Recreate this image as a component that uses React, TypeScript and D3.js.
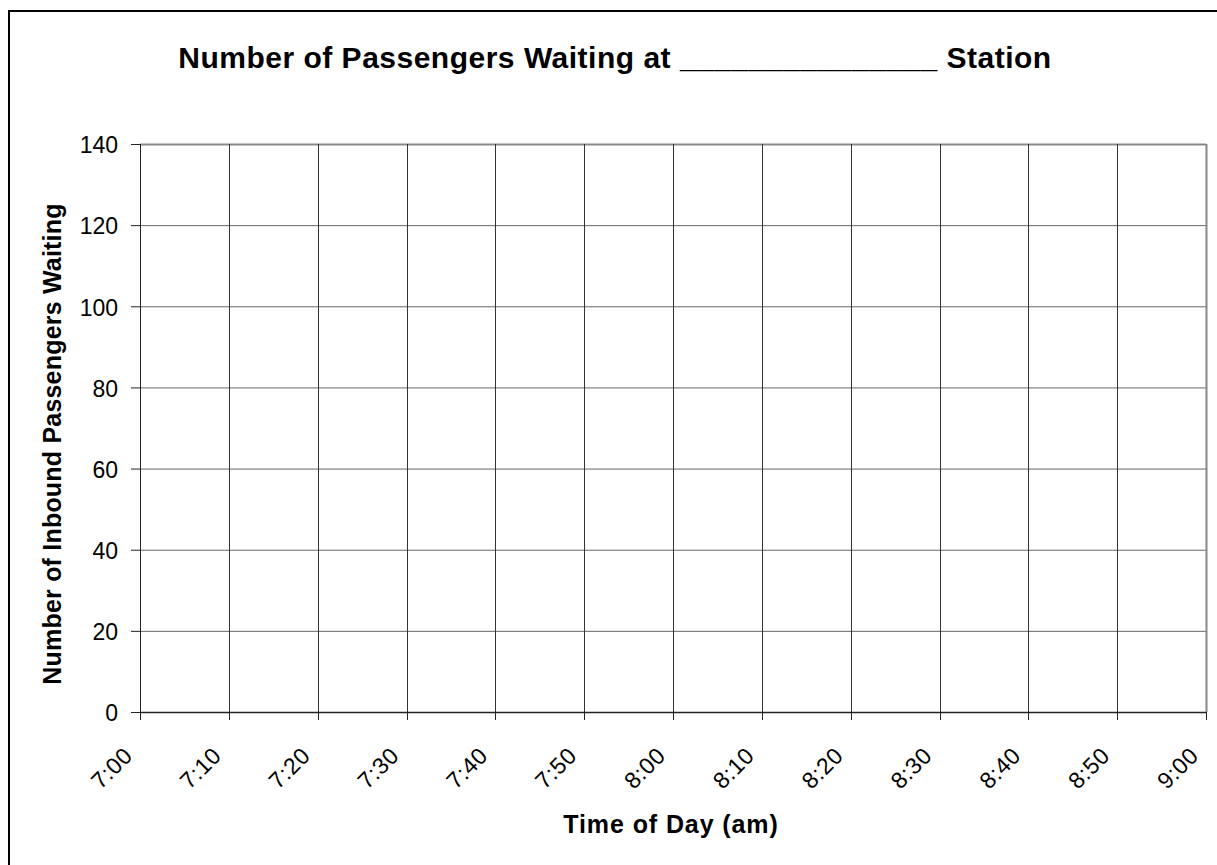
import { useEffect, useRef } from 'react'
import * as d3 from 'd3'

// axis ticks
const timeTicks = ['7:00', '7:10', '7:20', '7:30', '7:40', '7:50', '8:00', '8:10', '8:20', '8:30', '8:40', '8:50', '9:00']
const yTicks = [0, 20, 40, 60, 80, 100, 120, 140]
const titleText = 'Number of Passengers Waiting at _______________ Station'
const xTitle = 'Time of Day (am)'
const yTitle = 'Number of Inbound Passengers Waiting'

const parseTime = d3.timeParse('%H:%M')
const fmt = d3.timeFormat('%-H:%M')

export default function App() {
  const svgRef = useRef<SVGSVGElement>(null)
  const width = 1217
  const height = 865
  const left = 140
  const right = 1206
  const top = 144
  const bottom = 712

  useEffect(() => {
    if (!svgRef.current) return
    const svg = d3.select(svgRef.current)
    svg.selectAll('*').remove()

    const font = 'Arial, "Liberation Sans", sans-serif'
    const dates = timeTicks.map(t => parseTime(t) as Date)

    const x = d3.scaleTime()
      .domain([dates[0], dates[dates.length - 1]])
      .range([left, right])
    const y = d3.scaleLinear()
      .domain([0, d3.max(yTicks) as number])
      .range([bottom, top])

    // outer chart frame
    svg.append('rect')
      .attr('x', 9).attr('y', 11)
      .attr('width', 1230).attr('height', 880)
      .attr('fill', 'white')
      .attr('stroke', '#000')
      .attr('stroke-width', 2)

    // horizontal gridlines
    svg.append('g')
      .selectAll('line')
      .data(yTicks.filter(v => v > 0))
      .enter()
      .append('line')
      .attr('x1', left).attr('x2', right)
      .attr('y1', d => y(d) + 0.5).attr('y2', d => y(d) + 0.5)
      .attr('stroke', d => (d === 140 ? '#888' : '#666'))
      .attr('stroke-width', d => (d === 140 ? 2 : 1))

    // vertical gridlines
    svg.append('g')
      .selectAll('line')
      .data(dates.slice(1))
      .enter()
      .append('line')
      .attr('x1', d => Math.round(x(d)) + 0.5).attr('x2', d => Math.round(x(d)) + 0.5)
      .attr('y1', top).attr('y2', bottom)
      .attr('stroke', (d, i) => (i === dates.length - 2 ? '#888' : '#333'))
      .attr('stroke-width', (d, i) => (i === dates.length - 2 ? 2 : 1))

    // y axis
    const yAxis = svg.append('g')
    yAxis.append('line')
      .attr('x1', left + 0.5).attr('x2', left + 0.5)
      .attr('y1', top).attr('y2', bottom)
      .attr('stroke', '#222')
    yAxis.selectAll('line.tick')
      .data(yTicks)
      .enter()
      .append('line')
      .attr('class', 'tick')
      .attr('x1', left - 9).attr('x2', left)
      .attr('y1', d => y(d) + 0.5).attr('y2', d => y(d) + 0.5)
      .attr('stroke', '#222')
    yAxis.selectAll('text')
      .data(yTicks)
      .enter()
      .append('text')
      .attr('x', 118)
      .attr('y', d => y(d) + 1)
      .attr('dy', '0.36em')
      .attr('text-anchor', 'end')
      .style('font-family', font)
      .style('font-size', '23px')
      .attr('fill', '#000')
      .text(d => d)

    // x axis
    const xAxis = svg.append('g')
    xAxis.append('line')
      .attr('x1', left).attr('x2', right)
      .attr('y1', bottom + 0.5).attr('y2', bottom + 0.5)
      .attr('stroke', '#222')
      .attr('stroke-width', 1.5)
    xAxis.selectAll('line.tick')
      .data(dates)
      .enter()
      .append('line')
      .attr('class', 'tick')
      .attr('x1', d => Math.round(x(d)) + 0.5).attr('x2', d => Math.round(x(d)) + 0.5)
      .attr('y1', bottom).attr('y2', bottom + 8)
      .attr('stroke', '#222')
    xAxis.selectAll('text')
      .data(dates)
      .enter()
      .append('text')
      .attr('transform', d => `translate(${x(d) - 6},${757}) rotate(-45)`)
      .attr('text-anchor', 'end')
      .style('font-family', font)
      .style('font-size', '23px')
      .style('letter-spacing', '0.6px')
      .attr('fill', '#000')
      .text(d => fmt(d))

    // titles
    svg.append('text')
      .attr('x', 615)
      .attr('y', 68)
      .attr('text-anchor', 'middle')
      .style('font-family', font)
      .style('font-size', '30px')
      .style('font-weight', 'bold')
      .style('letter-spacing', '0.5px')
      .text(titleText)

    svg.append('text')
      .attr('x', (left + right) / 2 - 2)
      .attr('y', 833)
      .attr('text-anchor', 'middle')
      .style('font-family', font)
      .style('font-size', '25px')
      .style('font-weight', 'bold')
      .style('letter-spacing', '0.9px')
      .text(xTitle)

    svg.append('text')
      .attr('transform', `translate(61,${444}) rotate(-90)`)
      .attr('text-anchor', 'middle')
      .style('font-family', font)
      .style('font-size', '25px')
      .style('font-weight', 'bold')
      .style('letter-spacing', '0.2px')
      .text(yTitle)
  }, [])

  return (
    <svg
      ref={svgRef}
      width={width}
      height={height}
      style={{ position: 'absolute', left: 0, top: 0, background: 'white' }}
    />
  )
}
